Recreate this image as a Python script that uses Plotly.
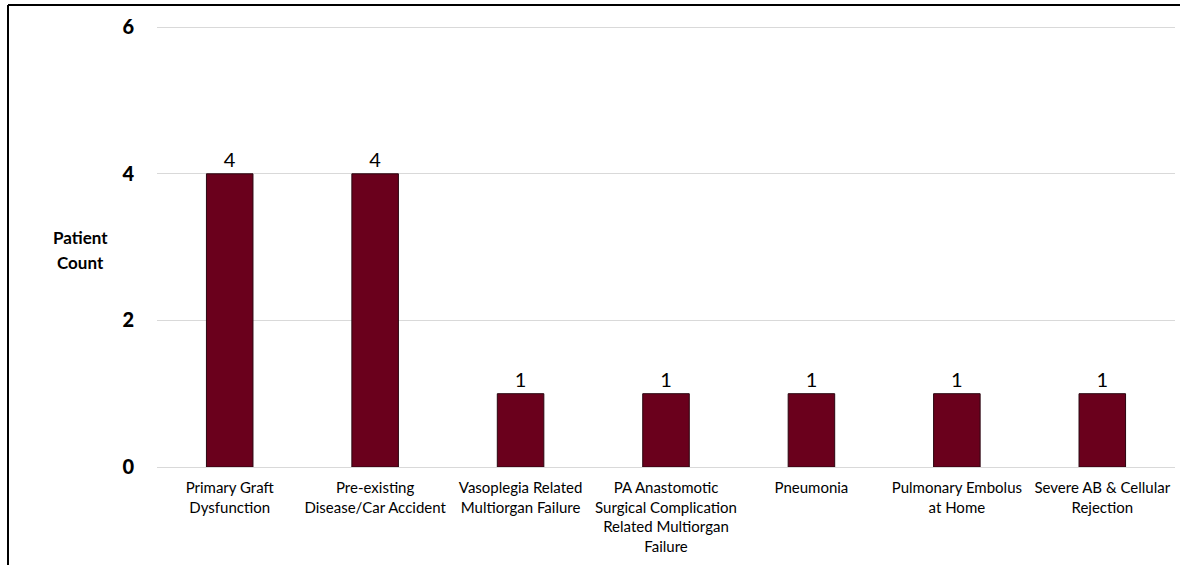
import plotly.graph_objects as go

categories = [
    "Primary Graft<br>Dysfunction",
    "Pre-existing<br>Disease/Car Accident",
    "Vasoplegia Related<br>Multiorgan Failure",
    "PA Anastomotic<br>Surgical Complication<br>Related Multiorgan<br>Failure",
    "Pneumonia",
    "Pulmonary Embolus<br>at Home",
    "Severe AB & Cellular<br>Rejection",
]
counts = [4, 4, 1, 1, 1, 1, 1]
y_ticks = [0, 2, 4, 6]

bar_color = "#6A001C"

fig = go.Figure()
fig.add_trace(go.Bar(
    x=categories, y=counts,
    width=0.32,
    marker=dict(color=bar_color, line=dict(color="#2a0610", width=1)),
    text=[str(c) for c in counts], textposition="outside",
    textfont=dict(family="Lato, Open Sans, sans-serif", size=20, color="black"),
    cliponaxis=False,
))

W, H = 1180, 565
ml, mr, mt, mb = 157, 5, 25, 98
pw, ph = W - ml - mr, H - mt - mb

fig.update_layout(
    width=W, height=H,
    margin=dict(l=ml, r=mr, t=mt, b=mb, autoexpand=False),
    plot_bgcolor="white", paper_bgcolor="white",
    showlegend=False,
    font=dict(family="Lato, Open Sans, sans-serif", color="black"),
    xaxis=dict(showgrid=False, showline=False, ticks="", automargin=False,
               tickfont=dict(size=15), tickangle=0, ticklabelstandoff=10),
    yaxis=dict(range=[0, 6.03], tickvals=y_ticks, showgrid=True, gridcolor="#D9D9D9",
               gridwidth=1, zeroline=True, zerolinecolor="#D9D9D9", zerolinewidth=1,
               automargin=False,
               tickfont=dict(size=20, family="Lato Black, Lato, sans-serif"),
               ticklabelstandoff=22),
)

# outer frame (top and left edges)
x_left = (8 - ml) / pw
y_top = 1 + (mt - 5) / ph
y_bot = -(mb + 2) / ph
fig.add_shape(type="line", xref="paper", yref="paper", x0=x_left, x1=(W - ml + 2) / pw,
              y0=y_top, y1=y_top, line=dict(color="black", width=2))
fig.add_shape(type="line", xref="paper", yref="paper", x0=x_left, x1=x_left,
              y0=y_top, y1=y_bot, line=dict(color="black", width=2))

# axis title as two lines
for word, ypix in [("Patient", 237), ("Count", 262)]:
    fig.add_annotation(
        text="<b>" + word + "</b>", xref="paper", yref="paper",
        x=(80 - ml) / pw, y=1 - (ypix - mt) / ph, showarrow=False,
        xanchor="center", yanchor="middle", font=dict(size=17),
    )

fig.write_html("out.html", config={"displayModeBar": False},
               post_script="document.body.style.margin='0';")
